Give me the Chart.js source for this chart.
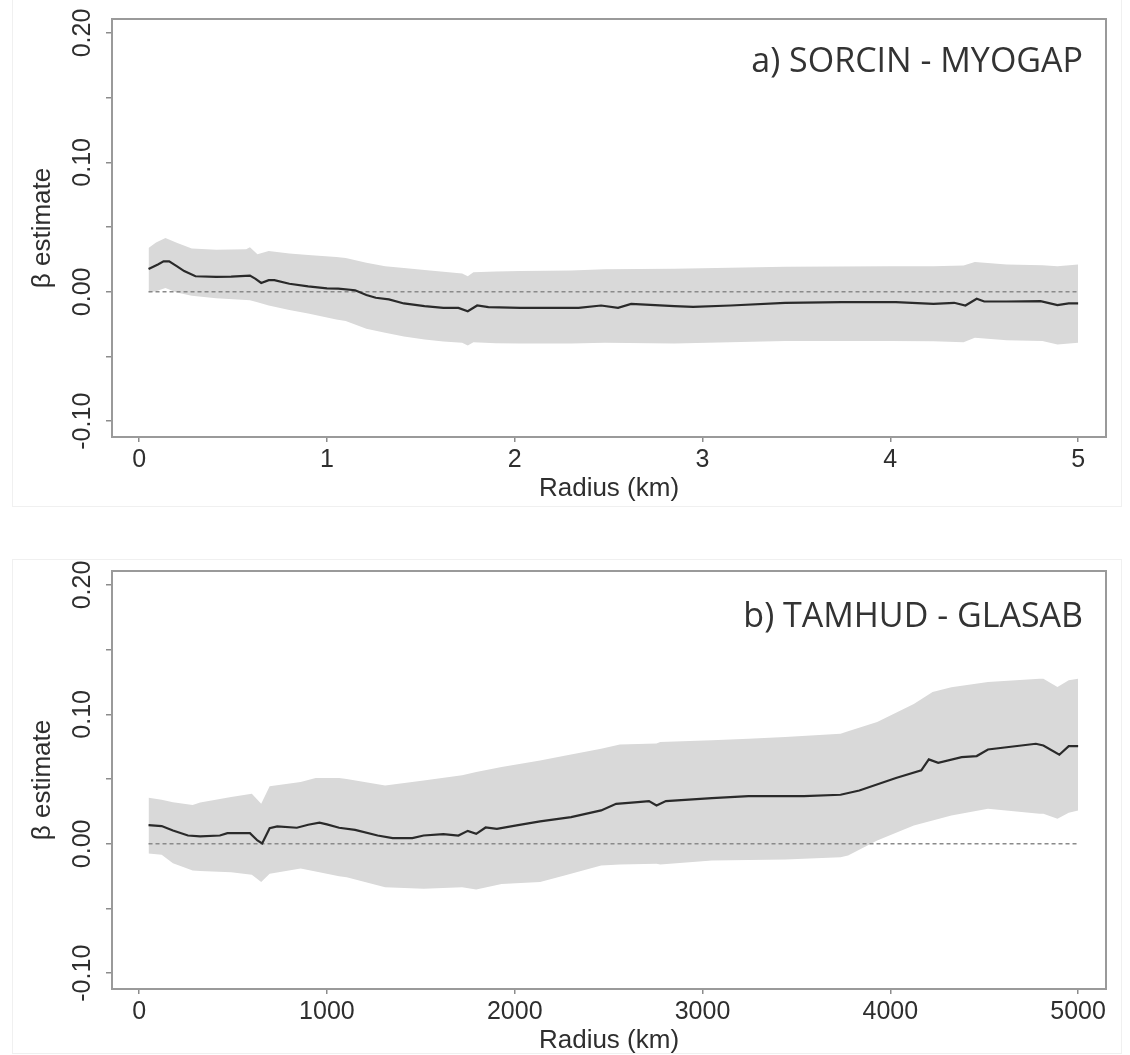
<!DOCTYPE html>
<html>
<head>
<meta charset="utf-8">
<script src="https://cdn.jsdelivr.net/npm/chart.js@4.4.1/dist/chart.umd.min.js"></script>
<style>
  body { margin: 0; background: #fff; }
  #wrap { position: relative; width: 1130px; height: 1055px; overflow: hidden; }
  .frame { position: absolute; border: 1px solid #f0f0f0; }
  .panel { position: absolute; left: 0; }
</style>
</head>
<body>
<div id="wrap">
  <div class="frame" style="left:12px;top:-2px;width:1108px;height:507px"></div>
  <div class="frame" style="left:12px;top:559px;width:1108px;height:493px"></div>
  <canvas class="panel" id="panelA" width="1130" height="530" style="top:0"></canvas>
  <canvas class="panel" id="panelB" width="1130" height="530" style="top:552px"></canvas>
</div>
<script>
// panel a) SORCIN - MYOGAP, radius in km
const radiusA = [0.05,0.10,0.13,0.16,0.20,0.24,0.30,0.41,0.49,0.59,0.62,0.65,0.69,0.72,0.80,0.90,1.00,1.06,1.15,1.21,1.26,1.33,1.41,1.52,1.62,1.70,1.75,1.80,1.86,2.03,2.34,2.46,2.55,2.62,2.85,2.95,3.15,3.44,3.74,4.03,4.23,4.34,4.40,4.46,4.50,4.62,4.80,4.89,4.95,5.00]
const betaA = [0.0176,0.0211,0.0235,0.0235,0.0198,0.0160,0.0120,0.0115,0.0118,0.0125,0.0100,0.0068,0.0090,0.0090,0.0062,0.0042,0.0027,0.0025,0.0012,-0.0025,-0.0046,-0.0059,-0.0090,-0.0110,-0.0124,-0.0124,-0.0150,-0.0106,-0.0119,-0.0124,-0.0124,-0.0106,-0.0124,-0.0093,-0.0110,-0.0116,-0.0106,-0.0085,-0.0080,-0.0080,-0.0093,-0.0085,-0.0106,-0.0054,-0.0075,-0.0075,-0.0072,-0.0103,-0.0090,-0.0090]
const bandXA = [0.05,0.09,0.14,0.20,0.28,0.41,0.57,0.59,0.63,0.69,0.80,0.90,1.05,1.10,1.21,1.31,1.41,1.52,1.62,1.72,1.75,1.78,1.90,2.03,2.30,2.48,2.85,3.44,4.00,4.23,4.39,4.45,4.62,4.81,4.89,5.00]
const upperA = [0.0338,0.0380,0.0415,0.0379,0.0334,0.0325,0.0328,0.0345,0.0290,0.0316,0.0295,0.0284,0.0268,0.0262,0.0224,0.0198,0.0183,0.0168,0.0155,0.0142,0.0121,0.0152,0.0157,0.0160,0.0165,0.0175,0.0178,0.0193,0.0197,0.0198,0.0204,0.0230,0.0211,0.0205,0.0198,0.0211]
const lowerA = [-0.0005,0.0005,0.0030,-0.0005,-0.0030,-0.0050,-0.0063,-0.0066,-0.0080,-0.0105,-0.0140,-0.0168,-0.0215,-0.0225,-0.0285,-0.0317,-0.0345,-0.0369,-0.0385,-0.0394,-0.0415,-0.0390,-0.0398,-0.0400,-0.0400,-0.0394,-0.0400,-0.0381,-0.0381,-0.0383,-0.0390,-0.0356,-0.0375,-0.0381,-0.0407,-0.0394]
const xTicksA = [0, 1, 2, 3, 4, 5]

// panel b) TAMHUD - GLASAB
const radiusB = [50,120,180,260,325,430,470,590,630,655,695,735,840,900,960,1000,1065,1150,1270,1350,1455,1515,1620,1700,1750,1795,1845,1905,2010,2135,2300,2460,2540,2655,2715,2755,2805,3050,3245,3540,3735,3835,4030,4165,4205,4255,4380,4460,4520,4775,4815,4900,4950,5000]
const betaB = [0.0145,0.0137,0.0103,0.0064,0.0057,0.0064,0.0082,0.0082,0.0026,0.0003,0.0121,0.0134,0.0124,0.0147,0.0163,0.0150,0.0124,0.0108,0.0064,0.0044,0.0044,0.0064,0.0075,0.0064,0.0100,0.0077,0.0126,0.0116,0.0142,0.0173,0.0206,0.0258,0.0309,0.0322,0.0330,0.0296,0.0330,0.0353,0.0369,0.0369,0.0379,0.0412,0.0508,0.0567,0.0652,0.0626,0.0670,0.0678,0.0729,0.0773,0.0760,0.0688,0.0755,0.0755]
const bandXB = [50,120,180,285,325,490,600,650,695,860,940,1065,1105,1310,1515,1720,1795,1930,2135,2265,2460,2560,2755,2775,3050,3245,3440,3735,3775,3930,4125,4225,4325,4520,4795,4815,4890,4950,5000]
const upperB = [0.0355,0.0340,0.0322,0.0300,0.0320,0.0361,0.0387,0.0310,0.0445,0.0477,0.0508,0.0508,0.0500,0.0451,0.0490,0.0530,0.0554,0.0593,0.0644,0.0680,0.0735,0.0768,0.0775,0.0786,0.0800,0.0812,0.0825,0.0850,0.0869,0.0941,0.1080,0.1173,0.1210,0.1250,0.1276,0.1275,0.1211,0.1263,0.1276]
const lowerB = [-0.0075,-0.0085,-0.0150,-0.0206,-0.0210,-0.0220,-0.0240,-0.0296,-0.0232,-0.0190,-0.0214,-0.0250,-0.0258,-0.0335,-0.0348,-0.0335,-0.0353,-0.0310,-0.0296,-0.0245,-0.0168,-0.0160,-0.0155,-0.0160,-0.0129,-0.0125,-0.0121,-0.0103,-0.0090,0.0026,0.0142,0.0180,0.0219,0.0271,0.0232,0.0232,0.0193,0.0240,0.0258]
const xTicksB = [0, 1000, 2000, 3000, 4000, 5000]

// y axis: ticks every 0.05, labels only on the 0.10 steps
const yTickValues = [-0.10, -0.05, 0, 0.05, 0.10, 0.15, 0.20]
const yTickLabels = ['-0.10', '0.00', '0.10', '0.20']

const axisFont = {family: 'Liberation Sans, Arial, sans-serif', size: 25}
const titleFont = {family: 'Liberation Sans, Arial, sans-serif', size: 26}

function pts(xs, ys) {
    return xs.map((x, i) => ({x: x, y: ys[i]}))
}

// box round the plot area, like R's box()
const frame = {
    id: 'frame',
    afterDraw(chart) {
        const {ctx, chartArea: a} = chart
        ctx.save()
        ctx.strokeStyle = '#9a9a9a'
        ctx.lineWidth = 2
        ctx.strokeRect(a.left, a.top, a.right - a.left, a.bottom - a.top)
        ctx.restore()
    }
}

const panelLabel = {
    id: 'panelLabel',
    afterDraw(chart, args, opts) {
        const {ctx, chartArea} = chart
        ctx.save()
        ctx.font = '34px "Open Sans"'
        ctx.fillStyle = '#333333'
        ctx.textAlign = 'right'
        ctx.textBaseline = 'alphabetic'
        ctx.fillText(opts.text, chartArea.right - 23, chartArea.top + opts.dy)
        ctx.restore()
    }
}

function makePanel(id, label, labelDy, xs, ys, bx, up, lo, xMin, xMax, xTicks) {
    const ctx = document.getElementById(id)
    new Chart(ctx, {
        type: 'line',
        data: {
            datasets: [{
                data: pts(xs, ys),
                borderColor: '#2a2a2a',
                borderWidth: 2.2,
                pointRadius: 0,
                fill: false
            }, {
                data: pts([xs[0], xs[xs.length - 1]], [0, 0]),
                borderColor: '#8a8a8a',
                borderWidth: 1.5,
                borderDash: [4, 3],
                pointRadius: 0,
                fill: false
            }, {
                data: pts(bx, up),
                borderWidth: 0,
                pointRadius: 0,
                fill: false
            }, {
                data: pts(bx, lo),
                borderWidth: 0,
                pointRadius: 0,
                backgroundColor: '#d9d9d9',
                fill: '-1'
            }]
        },
        options: {
            responsive: false,
            animation: false,
            layout: {padding: {top: 19, right: 24, left: 0, bottom: 0}},
            plugins: {
                legend: {display: false},
                tooltip: {enabled: false},
                panelLabel: {text: label, dy: labelDy}
            },
            scales: {
                x: {
                    type: 'linear',
                    min: xMin,
                    max: xMax,
                    bounds: 'data',
                    afterBuildTicks: s => { s.ticks = xTicks.map(v => ({value: v})) },
                    afterFit: s => { s.height = 93 },
                    border: {display: false},
                    grid: {drawOnChartArea: false, drawTicks: true, tickLength: 5, color: '#8c8c8c', lineWidth: 1.5},
                    ticks: {
                        maxRotation: 0,
                        padding: 3,
                        color: '#2e2e2e',
                        font: axisFont,
                        callback: v => String(v)
                    },
                    title: {display: true, text: 'Radius (km)', color: '#2e2e2e', font: titleFont, padding: {top: 0, bottom: 26}}
                },
                y: {
                    type: 'linear',
                    min: -0.1122,
                    max: 0.2108,
                    bounds: 'data',
                    afterBuildTicks: s => { s.ticks = yTickValues.map(v => ({value: v})) },
                    afterFit: s => { s.width = 112 },
                    border: {display: false},
                    grid: {drawOnChartArea: false, drawTicks: true, tickLength: 6, color: '#8c8c8c', lineWidth: 1.5},
                    ticks: {
                        minRotation: 90,
                        maxRotation: 90,
                        crossAlign: 'center',
                        padding: -5.5,
                        color: '#2e2e2e',
                        font: axisFont,
                        callback: v => {
                            const t = v.toFixed(2)
                            return yTickLabels.includes(t) ? t : ''
                        }
                    },
                    title: {display: true, text: 'β estimate', color: '#2e2e2e', font: titleFont, padding: {top: 27, bottom: 0}}
                }
            }
        },
        plugins: [frame, panelLabel]
    })
}

makePanel('panelA', 'a) SORCIN - MYOGAP', 53, radiusA, betaA, bandXA, upperA, lowerA, -0.1445, 5.1485, xTicksA)
makePanel('panelB', 'b) TAMHUD - GLASAB', 56, radiusB, betaB, bandXB, upperB, lowerB, -144.5, 5148.5, xTicksB)
</script>
</body>
</html>
